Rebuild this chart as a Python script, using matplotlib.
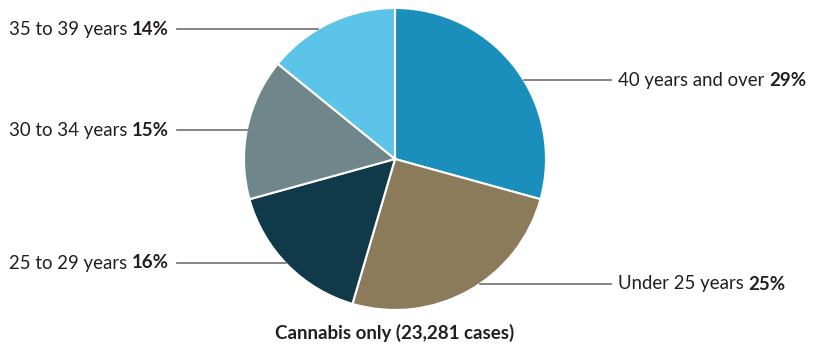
import matplotlib
matplotlib.use('Agg')
import matplotlib.pyplot as plt
import numpy as np

# data
labels = ['40 years and over', 'Under 25 years', '25 to 29 years',
          '30 to 34 years', '35 to 39 years']
shares = [29, 25, 16, 15, 14]
colours = ['#1b8fbb', '#8b7b5b', '#10394a', '#6f878b', '#5bc4e8']
title = 'Cannabis only (23,281 cases)'

# layout (pixel coords, y from top)
W, H = 813, 347
CX, CY, R = 395, 159, 151
label_y = [80, 284, 263, 130, 29]
side = ['r', 'r', 'l', 'l', 'l']
LINE_L, LINE_R = 177, 611

plt.rcParams['font.family'] = ['Lato', 'DejaVu Sans']
TXT = '#231f20'
FS = 13.4

fig = plt.figure(figsize=(W / 100, H / 100), dpi=100)
ax = fig.add_axes([0, 0, 1, 1])

ax.pie(shares, colors=colours, startangle=90, counterclock=False,
       center=(CX, H - CY), radius=R, frame=True,
       wedgeprops={'edgecolor': 'white', 'linewidth': 1.5})
ax.set_xlim(0, W)
ax.set_ylim(0, H)
ax.set_aspect('auto')
ax.axis('off')

fig.canvas.draw()
renderer = fig.canvas.get_renderer()

for lab, val, y, s in zip(labels, shares, label_y, side):
    dy = CY - y
    dx = np.sqrt(R ** 2 - dy ** 2)
    yy = H - y
    if s == 'r':
        x0 = CX + dx
        ax.plot([x0, LINE_R], [yy, yy], color='#707070', lw=1.2)
        t = ax.text(LINE_R + 7, yy, lab + ' ', ha='left', va='center',
                    fontsize=FS, color=TXT)
        bb = t.get_window_extent(renderer)
        ax.text(bb.x1, yy, f'{val}%', ha='left', va='center',
                fontsize=FS, color=TXT, fontweight='bold')
    else:
        x0 = CX - dx
        ax.plot([LINE_L, x0], [yy, yy], color='#707070', lw=1.2)
        t = ax.text(LINE_L - 8, yy, f'{val}%', ha='right', va='center',
                    fontsize=FS, color=TXT, fontweight='bold')
        bb = t.get_window_extent(renderer)
        ax.text(bb.x0, yy, lab + ' ', ha='right', va='center',
                fontsize=FS, color=TXT)

ax.text(CX, H - 333, title, ha='center', va='center', fontsize=13.5,
        color=TXT, fontweight='bold')

fig.savefig('out.png', dpi=100)
